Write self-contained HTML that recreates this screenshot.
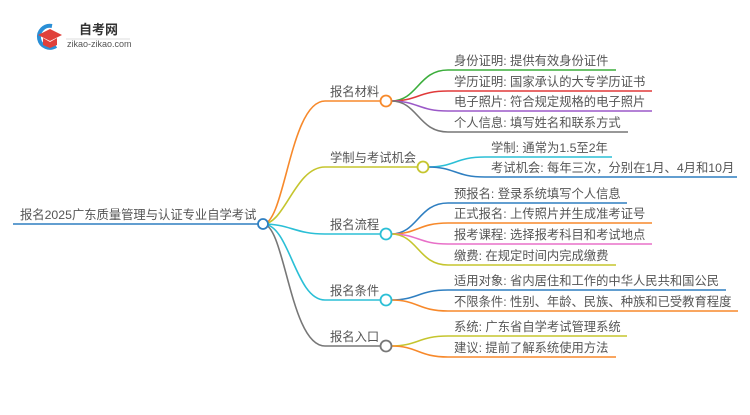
<!DOCTYPE html>
<html><head><meta charset="utf-8"><style>
body{margin:0;background:#fff;width:750px;height:410px;overflow:hidden}
text{font-family:"Liberation Sans","Noto Sans CJK SC",sans-serif;font-size:12.3px;fill:#555}
</style></head><body>
<svg width="750" height="410" xmlns="http://www.w3.org/2000/svg" fill="none" stroke-width="1.6">
<!-- logo -->
<path d="M52 26 A11 11 0 1 0 56 46" stroke="#2a8fd6" stroke-width="4"/>
<path d="M38 35 L50 29 L62 35 L50 41 Z" fill="#e0403a" stroke="none"/>
<path d="M43 38 L43 45 L50 48 L57 45 L57 38 L50 42 Z" fill="#e0403a" stroke="none"/>
<text x="79" y="34" style="font-size:13px;font-weight:bold;fill:#333">自考网</text>
<line x1="66" y1="39" x2="130" y2="39" stroke="#ddd" stroke-width="1"/>
<text x="67" y="47" style="font-size:9px;fill:#555">zikao-zikao.com</text>

<!-- root -->
<text x="20" y="219">报名2025广东质量管理与认证专业自学考试</text>
<line x1="13" y1="224" x2="258" y2="224" stroke="#2f7fc1"/>

<!-- branches -->
<path d="M263 224 C285 224 290 101 325 101 H381" stroke="#f7892b"/>
<path d="M263 224 C285 224 295 167 325 167 H418" stroke="#c5c52e"/>
<path d="M263 224 C290 224 295 234 325 234 H381" stroke="#2bbfd6"/>
<path d="M263 224 C290 224 295 300 325 300 H381" stroke="#2bbfd6"/>
<path d="M263 224 C285 224 290 346 325 346 H381" stroke="#777"/>
<circle cx="263" cy="224" r="5" fill="#fff" stroke="#2f7fc1" stroke-width="1.8"/>
<text x="330" y="96">报名材料</text>
<text x="330" y="162">学制与考试机会</text>
<text x="330" y="229">报名流程</text>
<text x="330" y="295">报名条件</text>
<text x="330" y="341">报名入口</text>

<!-- leaves 报名材料 -->
<path d="M391 101 C418 101 418 70 448 70 H616" stroke="#3cae3c"/>
<path d="M391 101 C418 101 418 91 448 91 H652" stroke="#e03a3a"/>
<path d="M391 101 C418 101 418 111 448 111 H652" stroke="#9b59c8"/>
<path d="M391 101 C418 101 418 132 448 132 H628" stroke="#777"/>
<circle cx="386" cy="101" r="5.5" fill="#fff" stroke="#f7892b" stroke-width="1.8"/>
<text x="454" y="65">身份证明: 提供有效身份证件</text>
<text x="454" y="86">学历证明: 国家承认的大专学历证书</text>
<text x="454" y="106">电子照片: 符合规定规格的电子照片</text>
<text x="454" y="127">个人信息: 填写姓名和联系方式</text>

<!-- 学制 -->
<path d="M428 167 C455 167 455 157 485 157 H612" stroke="#2bbfd6"/>
<path d="M428 167 C455 167 455 177 485 177 H737" stroke="#2f7fc1"/>
<circle cx="423" cy="167" r="5.5" fill="#fff" stroke="#c5c52e" stroke-width="1.8"/>
<text x="491" y="152">学制: 通常为1.5至2年</text>
<text x="491" y="172">考试机会: 每年三次，分别在1月、4月和10月</text>

<!-- 流程 -->
<path d="M391 234 C418 234 418 203 448 203 H627" stroke="#2f7fc1"/>
<path d="M391 234 C418 234 418 223 448 223 H652" stroke="#f7892b"/>
<path d="M391 234 C418 234 418 244 448 244 H652" stroke="#e870c8"/>
<path d="M391 234 C418 234 418 265 448 265 H616" stroke="#c5c52e"/>
<circle cx="386" cy="234" r="5.5" fill="#fff" stroke="#2bbfd6" stroke-width="1.8"/>
<text x="454" y="198">预报名: 登录系统填写个人信息</text>
<text x="454" y="218">正式报名: 上传照片并生成准考证号</text>
<text x="454" y="239">报考课程: 选择报考科目和考试地点</text>
<text x="454" y="260">缴费: 在规定时间内完成缴费</text>

<!-- 条件 -->
<path d="M391 300 C418 300 418 290 448 290 H726" stroke="#2f7fc1"/>
<path d="M391 300 C418 300 418 311 448 311 H738" stroke="#f7892b"/>
<circle cx="386" cy="300" r="5.5" fill="#fff" stroke="#2bbfd6" stroke-width="1.8"/>
<text x="454" y="285">适用对象: 省内居住和工作的中华人民共和国公民</text>
<text x="454" y="306">不限条件: 性别、年龄、民族、种族和已受教育程度</text>

<!-- 入口 -->
<path d="M391 346 C418 346 418 336 448 336 H627" stroke="#c5c52e"/>
<path d="M391 346 C418 346 418 357 448 357 H616" stroke="#f7892b"/>
<circle cx="386" cy="346" r="5.5" fill="#fff" stroke="#777" stroke-width="1.8"/>
<text x="454" y="331">系统: 广东省自学考试管理系统</text>
<text x="454" y="352">建议: 提前了解系统使用方法</text>
</svg>
</body></html>
